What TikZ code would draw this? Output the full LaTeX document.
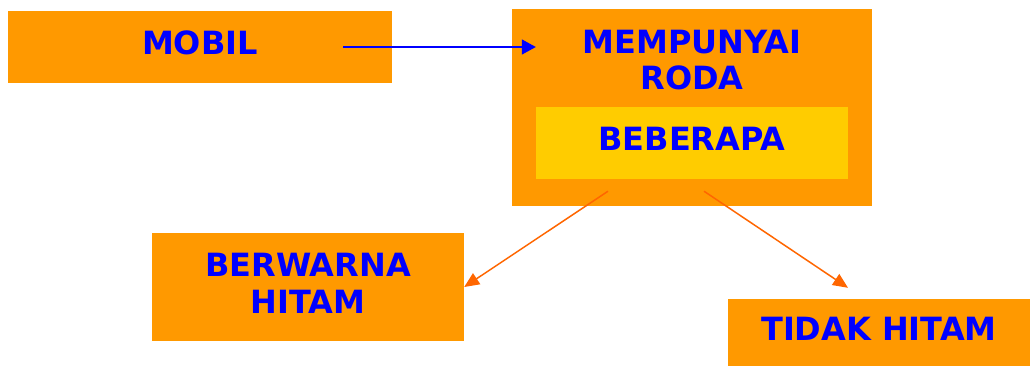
\documentclass[tikz,border=0pt]{standalone}
\usepackage{fontspec}
\setmainfont{DejaVu Sans}
\usepackage{xcolor}
\usetikzlibrary{arrows.meta}
\definecolor{boxorange}{HTML}{FF9900}
\definecolor{boxyellow}{HTML}{FFCC00}
\definecolor{textblue}{HTML}{0000FF}
\definecolor{linkorange}{HTML}{FF6600}

\begin{document}
\begin{tikzpicture}[x=1pt, y=-1pt,
        box/.style={rectangle, fill=boxorange, inner sep=0pt, text depth=8pt, align=center,
            font=\fontsize{32}{37}\selectfont\bfseries, text=textblue},
        innerbox/.style={box, fill=boxyellow},
        boxtext/.style={align=center, inner sep=0pt, font=\fontsize{32}{36}\selectfont\bfseries, text=textblue},
        bluelink/.style={-{Triangle[length=14pt, width=15pt]}, draw=textblue, line width=1.5pt},
        orangelink/.style={-{Triangle[length=15pt, width=13pt]}, draw=linkorange, line width=1.5pt}
    ]
        \useasboundingbox (0,0) rectangle (1030,367);

        % Mobil
        \node[box, minimum width=384pt, minimum height=72pt] (mobil) at (200,47) {MOBIL};

        % Mempunyai roda
        \node[box, minimum width=360pt, minimum height=197pt] (roda) at (692,107.5) {};
        \node[boxtext] (rodatext) at (692,60) {MEMPUNYAI\\RODA};
        \node[innerbox, minimum width=312pt, minimum height=72pt] (beberapa) at (692,143) {BEBERAPA};
        \draw[bluelink] ([xshift=-49pt]mobil.east) -- (beberapa.west |- mobil.east);

        % Warna
        \node[box, minimum width=312pt, minimum height=108pt] (hitam) at (308,287) {BERWARNA\\HITAM};
        \node[box, minimum width=302pt, minimum height=67pt] (tidak) at (879,332.5) {TIDAK HITAM};
        \draw[orangelink] ([xshift=-84pt, yshift=-12pt]beberapa.south) -- (hitam.east);
        \draw[orangelink] ([xshift=12pt, yshift=-12pt]beberapa.south) -- ([xshift=-31pt, yshift=11pt]tidak.north);

    \end{tikzpicture}
\end{document}
